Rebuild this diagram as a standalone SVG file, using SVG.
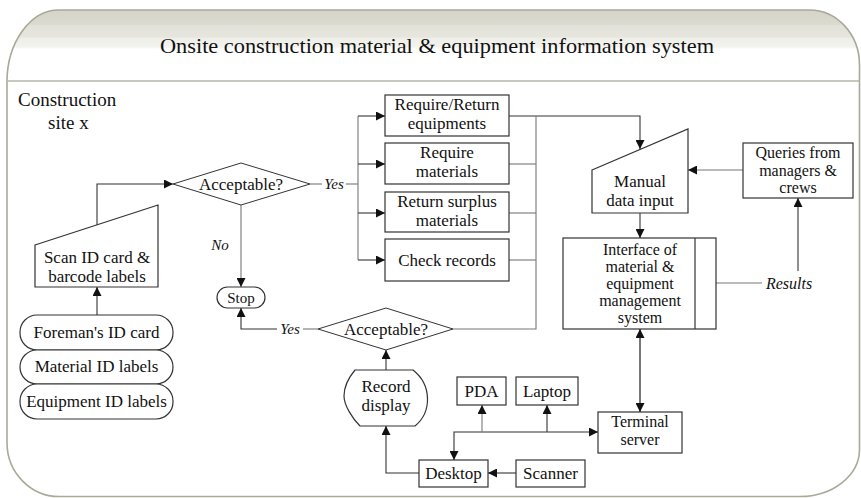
<svg xmlns="http://www.w3.org/2000/svg" width="861" height="498" viewBox="0 0 861 498">
<defs>
<linearGradient id="hdr" x1="0" y1="10" x2="0" y2="81" gradientUnits="userSpaceOnUse">
<stop offset="0" stop-color="#d4d4c8"/>
<stop offset="0.2" stop-color="#dadad0"/>
<stop offset="0.22" stop-color="#e2e2d9"/>
<stop offset="0.38" stop-color="#e6e6de"/>
<stop offset="0.40" stop-color="#efefe9"/>
<stop offset="0.52" stop-color="#f3f3ef"/>
<stop offset="0.55" stop-color="#ffffff"/>
<stop offset="1" stop-color="#ffffff"/>
</linearGradient>
<marker id="ah" viewBox="0 0 10 10" refX="10" refY="5" markerWidth="10" markerHeight="9" markerUnits="userSpaceOnUse" orient="auto-start-reverse">
<path d="M0,0 L10,5 L0,10 Z" fill="#111"/>
</marker>
<style>
.f{fill:#fff;stroke:#333;stroke-width:1.2}
.t{font-family:"Liberation Serif","Times New Roman",serif;font-size:17px;fill:#111;text-anchor:middle}
.s{font-size:16px}
.i{font-family:"Liberation Serif","Times New Roman",serif;font-style:italic;font-size:16px;fill:#111;text-anchor:middle}
.c{fill:none;stroke:#333;stroke-width:1.1}
.g{fill:none;stroke:#777;stroke-width:1.1}
.a{marker-end:url(#ah)}
.b{marker-start:url(#ah);marker-end:url(#ah)}
</style>
</defs>
<rect width="861" height="498" fill="#fff"/>
<g id="frame">
<path d="M7,81 L7,83 A52,72 0 0 1 59,10 L809,10 A50,55 0 0 1 859.5,65 L859.5,81 Z" fill="url(#hdr)"/>
<path d="M7,83 A52,72 0 0 1 59,10 L809,10 A50,55 0 0 1 859.5,65 L859.5,450 A60,47 0 0 1 800,496.5 L59,496.5 A52,54 0 0 1 7,443 Z" fill="none" stroke="#a9a99a" stroke-width="1.6"/>
<line x1="7" y1="81" x2="859.5" y2="81" stroke="#b6b6a8" stroke-width="1.6"/>
<text x="437" y="53" class="t" style="font-size:21px" textLength="554" lengthAdjust="spacingAndGlyphs">Onsite construction material &amp; equipment information system</text>
<text x="18" y="106" class="t" style="font-size:19px;text-anchor:start">Construction</text>
<text x="48" y="129" class="t" style="font-size:19px;text-anchor:start">site x</text>
</g>
<g id="connectors">
<path class="c a" d="M97,225 L97,184 L173,184"/>
<path class="c a" d="M97,315 L97,287"/>
<path class="g a" d="M241,205 L241,287"/>
<text x="220" y="250" class="i" style="font-size:15px">No</text>
<path class="g" d="M310,184 L322,184"/>
<text x="334" y="189" class="i" style="font-size:15px">Yes</text>
<path class="g" d="M346,184 L358,184"/>
<path class="g" d="M358,116 L358,260"/>
<path class="c a" d="M358,116 L385,116"/>
<path class="c a" d="M358,164 L385,164"/>
<path class="c a" d="M358,213 L385,213"/>
<path class="c a" d="M358,260 L385,260"/>
<path class="c a" d="M509,116 L640,116 L640,149"/>
<path class="g" d="M509,164 L536,164"/>
<path class="g" d="M509,213 L536,213"/>
<path class="g" d="M509,260 L536,260"/>
<path class="g" d="M536,116 L536,329 L453,329"/>
<path class="g" d="M318,329 L303,329"/>
<text x="290" y="334" class="i" style="font-size:15px">Yes</text>
<path class="c a" d="M277,329 L241,329 L241,308"/>
<path class="c a" d="M386,370 L386,350"/>
<path class="c a" d="M419,473 L386,473 L386,426"/>
<path class="c a" d="M516,473 L488,473"/>
<path class="c b" d="M454,460 L454,432 L598,432"/>
<path class="g a" d="M482,432 L482,405"/>
<path class="c a" d="M547,432 L547,405"/>
<path class="c b" d="M640,329 L640,412" style="stroke:#555;stroke-width:1.6"/>
<path class="c a" d="M640,213 L640,238"/>
<path class="g a" d="M743,170 L688,170"/>
<path class="g" d="M716,283 L762,283"/>
<text x="789" y="289" class="i">Results</text>
<path class="c a" d="M798,271 L798,198"/>
</g>
<g id="scan">
<polygon class="f" points="35,245 158,205 158,287 35,287"/>
<text x="97" y="263" class="t">Scan ID card &amp;</text>
<text x="97" y="282" class="t">barcode labels</text>
</g>
<g id="foreman">
<rect class="f" x="20" y="315" width="153" height="35" rx="17"/>
<text x="96.5" y="338" class="t">Foreman's ID card</text>
</g>
<g id="material">
<rect class="f" x="20" y="350" width="153" height="34" rx="17"/>
<text x="96.5" y="372" class="t">Material ID labels</text>
</g>
<g id="equipment">
<rect class="f" x="20" y="384" width="153" height="35" rx="17"/>
<text x="96.5" y="407" class="t">Equipment ID labels</text>
</g>
<g id="acceptable1">
<polygon class="f" points="173,184 241,163 310,184 241,205" style="stroke-width:1"/>
<text x="241" y="190" class="t">Acceptable?</text>
</g>
<g id="stop">
<rect class="f" x="217" y="287" width="48" height="21" rx="10.5"/>
<text x="241" y="303" class="t" style="font-size:15px">Stop</text>
</g>
<g id="reqret">
<rect class="f" x="385" y="95" width="124" height="41"/>
<text x="447" y="110" class="t">Require/Return</text>
<text x="447" y="129" class="t">equipments</text>
</g>
<g id="reqmat">
<rect class="f" x="385" y="143" width="124" height="41"/>
<text x="447" y="158" class="t">Require</text>
<text x="447" y="177" class="t">materials</text>
</g>
<g id="retsur">
<rect class="f" x="385" y="192" width="124" height="40"/>
<text x="447" y="206.5" class="t">Return surplus</text>
<text x="447" y="225.5" class="t">materials</text>
</g>
<g id="check">
<rect class="f" x="385" y="239" width="124" height="42"/>
<text x="447" y="266" class="t">Check records</text>
</g>
<g id="acceptable2">
<polygon class="f" points="318,329 386,308 453,329 386,350" style="stroke-width:1"/>
<text x="386" y="335" class="t">Acceptable?</text>
</g>
<g id="record">
<path class="f" d="M355,370 L413,370 C432,385 432,412 415,426 L360,426 C352,418 344,405 344,396 C344,386 350,376 355,370 Z"/>
<text x="386" y="392" class="t">Record</text>
<text x="386" y="411" class="t">display</text>
</g>
<g id="manual">
<polygon class="f" points="592,170 688,129 688,213 592,213"/>
<text x="640" y="187" class="t">Manual</text>
<text x="640" y="206" class="t">data input</text>
</g>
<g id="queries">
<rect class="f" x="743" y="143" width="110" height="55"/>
<text x="798" y="158" class="t s">Queries from</text>
<text x="798" y="175.5" class="t s">managers &amp;</text>
<text x="798" y="193" class="t s">crews</text>
</g>
<g id="interface">
<rect class="f" x="563" y="238" width="153" height="91"/>
<line x1="695" y1="238" x2="695" y2="329" stroke="#333" stroke-width="1.2"/>
<text x="640" y="255" class="t s">Interface of</text>
<text x="640" y="272" class="t s">material &amp;</text>
<text x="640" y="289" class="t s">equipment</text>
<text x="640" y="306" class="t s">management</text>
<text x="640" y="323" class="t s">system</text>
</g>
<g id="terminal">
<rect class="f" x="598" y="412" width="84" height="41"/>
<text x="640" y="427" class="t s">Terminal</text>
<text x="640" y="444.5" class="t s">server</text>
</g>
<g id="pda">
<rect class="f" x="457" y="377" width="49" height="28"/>
<text x="481.5" y="397" class="t">PDA</text>
</g>
<g id="laptop">
<rect class="f" x="516" y="377" width="62" height="28"/>
<text x="547" y="397" class="t">Laptop</text>
</g>
<g id="desktop">
<rect class="f" x="419" y="460" width="69" height="27"/>
<text x="453.5" y="479" class="t">Desktop</text>
</g>
<g id="scanner">
<rect class="f" x="516" y="460" width="69" height="27"/>
<text x="550.5" y="479" class="t">Scanner</text>
</g>
</svg>
